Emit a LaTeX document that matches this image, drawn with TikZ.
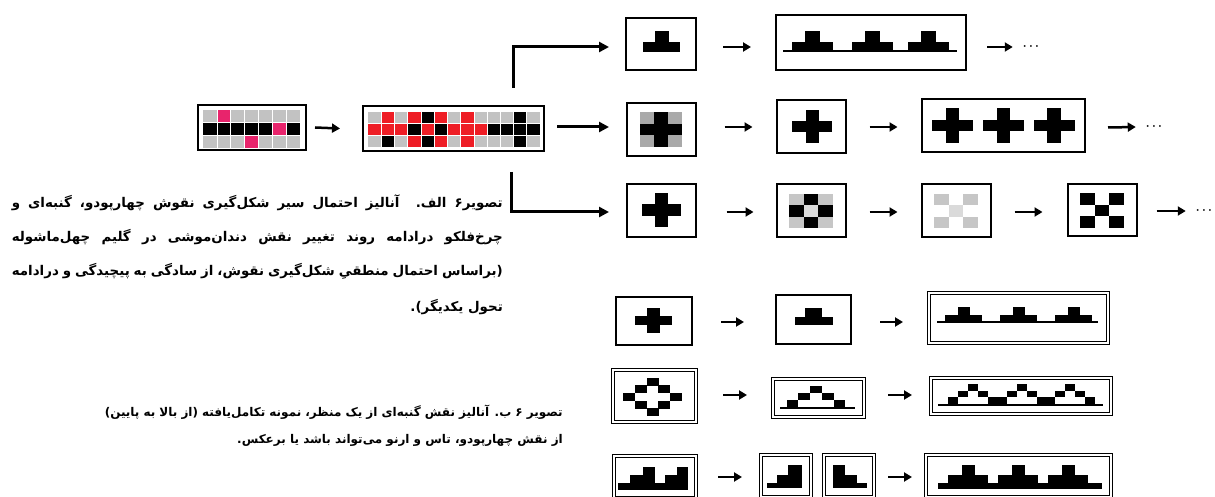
\documentclass[tikz,border=0pt]{standalone}
\usepackage{fontspec}
\newfontfamily\arfont[Script=Arabic]{DejaVu Sans}
\TeXXeTstate=1
\usetikzlibrary{arrows.meta}
\definecolor{cgray}{HTML}{C2C2C2}
\definecolor{cgtwo}{HTML}{A9A9A9}
\definecolor{cgthree}{HTML}{C6C6C6}
\definecolor{cgfour}{HTML}{DADADA}
\definecolor{cpink}{HTML}{E8246C}
\definecolor{cred}{HTML}{EE1D25}
\newcommand\zw{\char"200C\relax}
\begin{document}
\begin{tikzpicture}[x=1pt,y=-1pt,
  box/.style={draw, line width=2.4pt, inner sep=0pt, outer sep=0pt},
  dbox/.style={draw, double, line width=1.2pt, double distance=1.6pt, inner sep=0pt, outer sep=0pt},
  arr/.style={-{Triangle[length=8pt,width=9pt]}, line width=2.5pt},
  barr/.style={-{Triangle[length=10pt,width=10pt]}, line width=3pt},
  dotsnode/.style={inner sep=0pt, font=\fontsize{12}{12}\selectfont\boldmath},
  ptxt/.style={inner sep=0pt, anchor=east},
  gl/.style={white, line width=0.7pt}]
\useasboundingbox (0,0) rectangle (1215,497);
\fill[white] (0,0) rectangle (1215,497);

% ---------- row 1 ----------
\node[box, minimum width=70pt, minimum height=52pt] (r1a) at (661,44) {};
\fill (655,31) rectangle (669,42);
\fill (643,42) rectangle (680,52);
\node[box, minimum width=190pt, minimum height=55pt] (r1b) at (871,42.5) {};
\fill (783,50.5) rectangle (957,52.5);
\foreach \c in {812.5,872,928} {
  \fill (\c-7.5,31) rectangle (\c+7.5,42);
  \fill (\c-20.5,42) rectangle (\c+20.5,51);
}
\node[dotsnode] (d1) at (1031,47) {$\cdots$};
\coordinate (b1) at (513,88);
\draw[barr] (b1) |- ([shift={(-17,3)}]r1a.west);
\draw[arr] ([shift={(27,3)}]r1a.east) -- ([shift={(-25,4.5)}]r1b.west);
\draw[arr] ([shift={(21,4.5)}]r1b.east) -- ([xshift=-10pt]d1.west);

% ---------- row 2 ----------
\node[box, minimum width=108pt, minimum height=45pt] (rA) at (252,127.5) {};
\fill[cgray] (203,110) rectangle (300,148);
\fill[black] (203,122.667) rectangle (300,135.333);
\foreach \i/\j in {1/0,5/1,3/2}
  \fill[cpink] (203+\i*13.857,110+\j*12.667) rectangle ++(13.857,12.667);
\foreach \i in {1,...,6} \draw[gl] (203+\i*13.857,110) -- ++(0,38);
\foreach \j in {1,2} \draw[gl] (203,110+\j*12.667) -- ++(97,0);

\node[box, minimum width=181pt, minimum height=45pt] (rB) at (453.5,128.5) {};
\fill[cgray] (368,112) rectangle (540,147);
\foreach \i/\j/\c in {1/0/cred,3/0/cred,5/0/cred,7/0/cred,4/0/black,11/0/black,
  0/1/cred,1/1/cred,2/1/cred,4/1/cred,6/1/cred,7/1/cred,8/1/cred,
  3/1/black,5/1/black,9/1/black,10/1/black,11/1/black,12/1/black,
  1/2/black,4/2/black,11/2/black,3/2/cred,5/2/cred,7/2/cred}
  \fill[fill=\c] (368+\i*13.231,112+\j*11.667) rectangle ++(13.231,11.667);
\foreach \i in {1,...,12} \draw[gl] (368+\i*13.231,112) -- ++(0,35);
\foreach \j in {1,2} \draw[gl] (368,112+\j*11.667) -- ++(172,0);

\draw[arr] ([xshift=9pt]rA.east) -- ([xshift=-23pt]rB.west);

\node[box, minimum width=69pt, minimum height=53pt] (r2a) at (661.5,129.5) {};
\foreach \i/\j/\c in {0/0/cgtwo,2/0/cgtwo,0/2/cgtwo,2/2/cgtwo,1/0/black,0/1/black,1/1/black,2/1/black,1/2/black}
  \fill[fill=\c] (640+\i*14,112+\j*11.667) rectangle ++(14,11.667);
\node[box, minimum width=69pt, minimum height=53pt] (r2b) at (811.5,126.5) {};
\fill (792,121) rectangle (832,132);
\fill (805.5,110) rectangle (818.5,143);
\node[box, minimum width=163pt, minimum height=53pt] (r2c) at (1003.5,125.5) {};
\foreach \c in {952.5,1003.5,1054} {
  \fill (\c-20.5,119.7) rectangle (\c+20.5,131.3);
  \fill (\c-6.8,108) rectangle (\c+6.8,143);
}
\node[dotsnode] (d2) at (1154,127) {$\cdots$};
\draw[barr] ([shift={(13,-1.5)}]rB.east) -- ([shift={(-18,-2.5)}]r2a.west);
\draw[arr] ([shift={(28.5,-2.5)}]r2a.east) -- ([shift={(-24.5,0.5)}]r2b.west);
\draw[arr] ([shift={(23.5,0.5)}]r2b.east) -- ([shift={(-24.5,1.5)}]r2c.west);
\draw[arr] ([shift={(23,2)}]r2c.east) -- ([xshift=-10pt]d2.west);

% ---------- row 3 ----------
\node[box, minimum width=69pt, minimum height=53pt] (r3a) at (661.5,210.5) {};
\fill (642,204.3) rectangle (681,215.7);
\fill (655,193) rectangle (668,227);
\node[box, minimum width=69pt, minimum height=53pt] (r3b) at (811.5,210.5) {};
\foreach \i/\j/\c in {0/0/cgthree,2/0/cgthree,0/2/cgthree,2/2/cgthree,1/1/cgfour,1/0/black,0/1/black,2/1/black,1/2/black}
  \fill[fill=\c] (789+\i*14.667,194+\j*11.333) rectangle ++(14.667,11.333);
\node[box, minimum width=69pt, minimum height=53pt] (r3c) at (956.5,210.5) {};
\foreach \i/\j/\c in {0/0/cgthree,2/0/cgthree,0/2/cgthree,2/2/cgthree,1/1/cgfour}
  \fill[fill=\c] (934+\i*14.667,194+\j*11.333) rectangle ++(14.667,11.333);
\node[box, minimum width=69pt, minimum height=52pt] (r3d) at (1102.5,210) {};
\foreach \i/\j in {0/0,2/0,0/2,2/2,1/1}
  \fill (1080+\i*14.667,193+\j*11.667) rectangle ++(14.667,11.667);
\node[dotsnode] (d3) at (1204,211) {$\cdots$};
\coordinate (b3) at (511,172);
\draw[barr] (b3) |- ([shift={(-18,1.5)}]r3a.west);
\draw[arr] ([shift={(30.5,1.5)}]r3a.east) -- ([shift={(-23.5,1.5)}]r3b.west);
\draw[arr] ([shift={(23.5,1.5)}]r3b.east) -- ([shift={(-24.5,1.5)}]r3c.west);
\draw[arr] ([shift={(23.5,1.5)}]r3c.east) -- ([shift={(-25.5,2)}]r3d.west);
\draw[arr] ([shift={(19.5,1)}]r3d.east) -- ([xshift=-10pt]d3.west);

% ---------- row 4 ----------
\node[box, minimum width=76pt, minimum height=48pt] (r4a) at (654,321) {};
\fill (635,316.3) rectangle (672,324.7);
\fill (647,308) rectangle (660,333);
\node[box, minimum width=75pt, minimum height=49pt] (r4b) at (813.5,319.5) {};
\fill (805,308) rectangle (822,317);
\fill (795,317) rectangle (833,325);
\node[dbox, minimum width=179pt, minimum height=50pt] (r4c) at (1018.5,318) {};
\fill (937,320.5) rectangle (1098,322.5);
\foreach \c in {963.5,1018.5,1073.5} {
  \fill (\c-6,307) rectangle (\c+6,315);
  \fill (\c-18.5,315) rectangle (\c+18.5,321);
}
\draw[arr] ([shift={(29,1)}]r4a.east) -- ([shift={(-32,2.5)}]r4b.west);
\draw[arr] ([shift={(29,2.5)}]r4b.east) -- ([shift={(-26,4)}]r4c.west);

% ---------- row 5 ----------
\node[dbox, minimum width=83pt, minimum height=52pt] (r5a) at (654.5,396) {};
\foreach \i/\j in {0/-2,-1/-1,1/-1,-2/0,2/0,-1/1,1/1,0/2}
  \fill (652.5+\i*11.75-6,397+\j*7.6-4) rectangle ++(12,8);
\node[dbox, minimum width=91pt, minimum height=38pt] (r5b) at (818.5,398) {};
\foreach \i/\j in {0/0,-1/1,1/1,-2/2,2/2}
  \fill (816+\i*11.7-5.85,386+\j*7) rectangle ++(11.7,7);
\fill (780,406.5) rectangle (855,408.5);
\node[dbox, minimum width=180pt, minimum height=36pt] (r5c) at (1021,396) {};
\foreach \c in {973,1022,1070} {
  \foreach \i/\j in {0/0,-1/1,1/1,-2/2,2/2}
    \fill (\c+\i*10-5,384+\j*6.5) rectangle ++(10,6.5);
}
\fill (938,403.5) rectangle (1103,405.5);
\draw[arr] ([shift={(27,-1)}]r5a.east) -- ([shift={(-26,-3)}]r5b.west);
\draw[arr] ([shift={(24,-3)}]r5b.east) -- ([shift={(-19,-1)}]r5c.west);

% ---------- row 6 ----------
\node[dbox, minimum width=82pt, minimum height=42pt] (r6a) at (655,477) {};
\fill (618,483) rectangle (688,490);
\fill (630,475) rectangle (643,483);
\fill (643,467) rectangle (655,483);
\fill (665,475) rectangle (677,483);
\fill (677,467) rectangle (688,483);
\node[dbox, minimum width=50pt, minimum height=42pt] (r6b1) at (786,476) {};
\fill (767,483) rectangle (802,488);
\fill (777,475) rectangle (788,483);
\fill (788,465) rectangle (802,483);
\node[dbox, minimum width=50pt, minimum height=42pt] (r6b2) at (849,476) {};
\fill (833,465) rectangle (845,483);
\fill (845,475) rectangle (857,483);
\fill (833,483) rectangle (867,488);
\node[dbox, minimum width=185pt, minimum height=42pt] (r6c) at (1018.5,476) {};
\fill (938,483) rectangle (1102,489);
\foreach \c in {968,1018,1068} {
  \fill (\c-20,475) rectangle (\c+20,483);
  \fill (\c-6.5,465) rectangle (\c+6.5,475);
}
\draw[arr] ([shift={(22,0)}]r6a.east) -- ([shift={(-19,1)}]r6b1.west);
\draw[arr] ([shift={(14,1)}]r6b2.east) -- ([shift={(-14,1)}]r6c.west);

% ---------- texts ----------
\begin{scope}[every node/.style={ptxt, font=\arfont\bfseries\fontsize{13.4}{16}\selectfont}]
\node (t1) at (503,203) {\hbox to 491pt{\beginR تصویر۶ الف. آنالیز احتمال سیر شکل\zw{}گیری نقوش چهارپودو، گنبه\zw{}ای و\endR}};
\node (t2) at (503,237) {\hbox to 491pt{\beginR چرخ\zw{}فلکو درادامه روند تغییر نقش دندان\zw{}موشی در گلیم چهل\zw{}ماشوله\endR}};
\node (t3) at (503,271) {\hbox to 491pt{\beginR (براساس احتمال منطقیِ شکل\zw{}گیری نقوش، از سادگی به پیچیدگی و درادامه\endR}};
\node (t4) at (503,307) {\beginR تحول یکدیگر).\endR};
\end{scope}
\begin{scope}[every node/.style={ptxt, font=\arfont\bfseries\fontsize{12}{14}\selectfont}]
\node (t5) at (563,412) {\hbox to 458pt{\beginR تصویر ۶ ب. آنالیز نقش گنبه\zw{}ای از یک منظر، نمونه تکامل\zw{}یافته (از بالا به پایین)\endR}};
\node (t6) at (563,440) {\beginR از نقش چهارپودو، تاس و ارنو می\zw{}تواند باشد یا برعکس.\endR};
\end{scope}
\end{tikzpicture}
\end{document}
